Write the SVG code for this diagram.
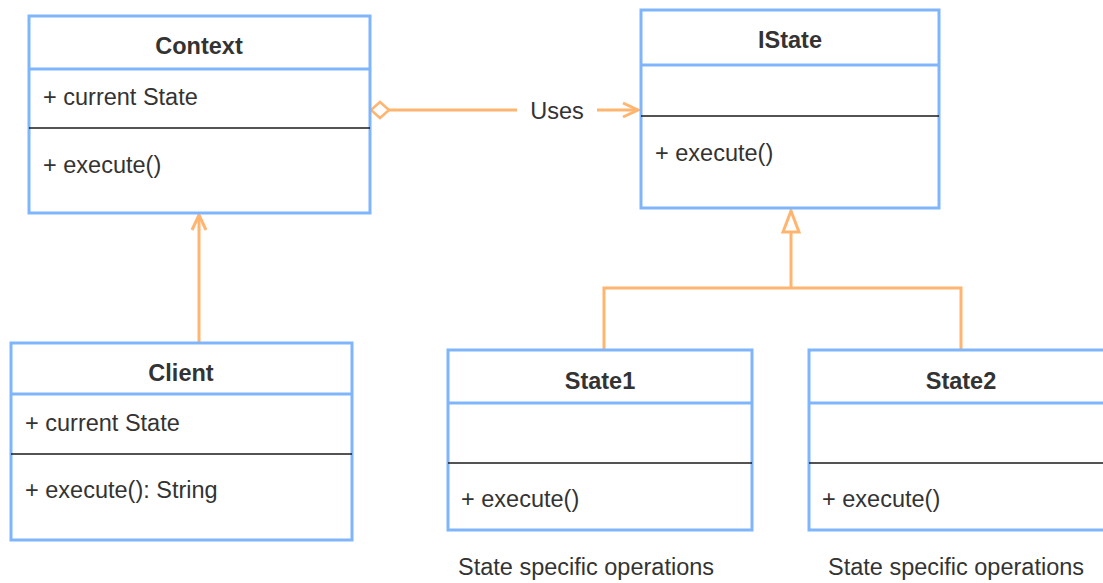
<svg xmlns="http://www.w3.org/2000/svg" width="1103" height="583" viewBox="0 0 1103 583">
<style>
.box{fill:#fff;stroke:#7EB5FC;stroke-width:3}
.sep{stroke:#7EB5FC;stroke-width:3}
.div{stroke:#1a1a1a;stroke-width:1.6}
.t{font-family:"Liberation Sans",Arial,sans-serif;font-size:23.5px;fill:#333}
.b{font-weight:bold;text-anchor:middle}
.c{fill:none;stroke:#FFB570;stroke-width:3}
</style>
<defs>
<marker id="open" markerUnits="userSpaceOnUse" markerWidth="18" markerHeight="18" viewBox="0 0 18 18" refX="16" refY="9" orient="auto">
<path d="M1,2 L16,9 L1,16" fill="none" stroke="#FFB570" stroke-width="3"/>
</marker>
<marker id="diamond" markerUnits="userSpaceOnUse" markerWidth="22" markerHeight="20" viewBox="0 0 22 20" refX="1" refY="10" orient="auto">
<path d="M1,10 L10,2 L19,10 L10,18 Z" fill="#fff" stroke="#FFB570" stroke-width="2.5"/>
</marker>
<marker id="tri" markerUnits="userSpaceOnUse" markerWidth="26" markerHeight="22" viewBox="0 0 26 22" refX="23" refY="11" orient="auto">
<path d="M2,3 L23,11 L2,19 Z" fill="#fff" stroke="#FFB570" stroke-width="3"/>
</marker>
</defs>
<rect width="1103" height="583" fill="#fff"/>
<g id="connectors">
<path class="c" d="M371,110 L517,110" marker-start="url(#diamond)"/>
<text class="t" x="557" y="119" text-anchor="middle">Uses</text>
<path class="c" d="M597,110 L638,110" marker-end="url(#open)"/>
<path class="c" d="M199,342 L199,215" marker-end="url(#open)"/>
<path class="c" d="M791,288 L791,211" marker-end="url(#tri)"/>
<path class="c" d="M604,349 L604,288 L961,288 L961,349"/>
</g>
<g id="context">
<rect class="box" x="29" y="16" width="341" height="197"/>
<line class="sep" x1="29" y1="69" x2="370" y2="69"/>
<line class="div" x1="29" y1="128" x2="370" y2="128"/>
<text class="t b" x="199" y="54">Context</text>
<text class="t" x="43" y="105">+ current State</text>
<text class="t" x="43" y="173">+ execute()</text>
</g>
<g id="istate">
<rect class="box" x="641" y="10" width="298" height="198"/>
<line class="sep" x1="641" y1="65" x2="939" y2="65"/>
<line class="div" x1="641" y1="116" x2="939" y2="116"/>
<text class="t b" x="790" y="48">IState</text>
<text class="t" x="655" y="161">+ execute()</text>
</g>
<g id="client">
<rect class="box" x="11" y="343" width="341" height="197"/>
<line class="sep" x1="11" y1="394" x2="352" y2="394"/>
<line class="div" x1="11" y1="454" x2="352" y2="454"/>
<text class="t b" x="181" y="381">Client</text>
<text class="t" x="25" y="431">+ current State</text>
<text class="t" x="25" y="498">+ execute(): String</text>
</g>
<g id="state1">
<rect class="box" x="448" y="350" width="304" height="180"/>
<line class="sep" x1="448" y1="403" x2="752" y2="403"/>
<line class="div" x1="448" y1="463" x2="752" y2="463"/>
<text class="t b" x="600" y="389">State1</text>
<text class="t" x="461" y="507">+ execute()</text>
<text class="t" x="458" y="575">State specific operations</text>
</g>
<g id="state2">
<rect class="box" x="809" y="350" width="310" height="180"/>
<line class="sep" x1="809" y1="403" x2="1119" y2="403"/>
<line class="div" x1="809" y1="463" x2="1119" y2="463"/>
<text class="t b" x="961" y="389">State2</text>
<text class="t" x="822" y="507">+ execute()</text>
<text class="t" x="828" y="575">State specific operations</text>
</g>
</svg>
